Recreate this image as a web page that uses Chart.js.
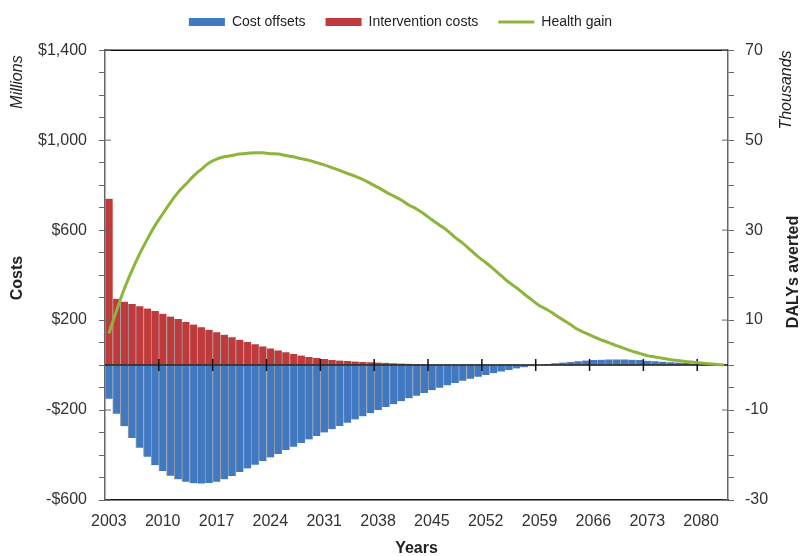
<!DOCTYPE html>
<html>
<head>
<meta charset="utf-8">
<script src="https://cdn.jsdelivr.net/npm/chart.js@4.4.0/dist/chart.umd.min.js"></script>
<style>
  html, body { margin: 0; padding: 0; background: #fff; }
  #wrap { width: 801px; height: 556px; }
</style>
</head>
<body>
<div id="wrap"><canvas id="chart"></canvas></div>
<script>
var years = [
    "2003", "2004", "2005", "2006", "2007", "2008", "2009", "2010", "2011", "2012",
    "2013", "2014", "2015", "2016", "2017", "2018", "2019", "2020", "2021", "2022",
    "2023", "2024", "2025", "2026", "2027", "2028", "2029", "2030", "2031", "2032",
    "2033", "2034", "2035", "2036", "2037", "2038", "2039", "2040", "2041", "2042",
    "2043", "2044", "2045", "2046", "2047", "2048", "2049", "2050", "2051", "2052",
    "2053", "2054", "2055", "2056", "2057", "2058", "2059", "2060", "2061", "2062",
    "2063", "2064", "2065", "2066", "2067", "2068", "2069", "2070", "2071", "2072",
    "2073", "2074", "2075", "2076", "2077", "2078", "2079", "2080", "2081", "2082",
    "2083",
];

// $ millions
var costOffsets = [
    -150, -216, -272, -324, -368, -408, -445, -471, -492, -508,
    -519, -526, -527, -524, -519, -508, -493, -476, -460, -443,
    -427, -411, -395, -378, -363, -347, -331, -315, -300, -285,
    -271, -256, -242, -228, -214, -200, -187, -174, -161, -148,
    -136, -124, -112, -101, -90, -80, -70, -61, -52, -44,
    -36, -29, -22, -15, -10, -5, 2, 5, 8, 11,
    14, 17, 20, 22, 24, 25, 25, 25, 24, 22,
    19, 17, 15, 13, 11, 9, 7, 6, 4, 3,
    1,
];

var interventionCosts = [
    740, 295, 282, 272, 262, 251, 240, 228, 216, 205,
    192, 180, 168, 157, 146, 135, 124, 113, 102, 92,
    83, 74, 65, 57, 49, 42, 36, 31, 27, 23,
    20, 18, 16, 14, 12, 11, 10, 8, 7, 6,
    5, 4, 3, 3, 2, 2, 1, 1, 1, 1,
    0, 0, 0, 0, 0, 0, 0, 0, 0, 0,
    0, 0, 0, 0, 0, 0, 0, 0, 0, 0,
    0, 0, 0, 0, 0, 0, 0, 0, 0, 0,
    0,
];

// DALYs averted, thousands
var healthGain = [
    7.0, 12.1, 16.9, 21.0, 24.7, 28.0, 31.0, 33.6, 36.1, 38.4,
    40.2, 42.0, 43.5, 44.9, 45.8, 46.3, 46.6, 46.9, 47.1, 47.2,
    47.2, 47.0, 46.9, 46.6, 46.3, 45.9, 45.5, 45.0, 44.5, 43.9,
    43.3, 42.6, 42.0, 41.3, 40.4, 39.5, 38.5, 37.6, 36.7, 35.6,
    34.7, 33.6, 32.3, 31.1, 29.9, 28.4, 27.1, 25.6, 24.1, 22.8,
    21.4, 19.9, 18.4, 17.2, 15.8, 14.5, 13.2, 12.3, 11.2, 10.1,
    9.0, 7.9, 7.1, 6.3, 5.6, 5.0, 4.3, 3.7, 3.1, 2.6,
    2.1, 1.8, 1.5, 1.2, 1.0, 0.8, 0.6, 0.45, 0.3, 0.15,
    0.0,
];

var yearTicks = ["2003", "2010", "2017", "2024", "2031", "2038", "2045", "2052", "2059", "2066", "2073", "2080"];
var costTicks = [-600, -200, 200, 600, 1000, 1400];
var dalyTicks = [-30, -10, 10, 30, 50, 70];

var FONT = "'Liberation Sans', Arial, sans-serif";

function money(v) {
    var s = "$" + Math.abs(v).toLocaleString("en-US");
    return v < 0 ? "-" + s : s;
}

// zero line with year ticks, box top edge and side titles
var decorations = {
    id: "decorations",
    afterDatasetDraw: function (chart, args) {
        if (args.index !== 0) return;
        var ctx = chart.ctx;
        var x = chart.scales.x;
        var y0 = chart.scales.y.getPixelForValue(0);
        var step = x.getPixelForValue(1) - x.getPixelForValue(0);
        ctx.save();
        ctx.strokeStyle = "#111";
        ctx.lineWidth = 1.5;
        ctx.beginPath();
        ctx.moveTo(chart.chartArea.left, y0);
        ctx.lineTo(chart.chartArea.right, y0);
        for (var i = 7; i < years.length; i += 7) {
            var bx = x.getPixelForValue(i) - step / 2;
            ctx.moveTo(bx, y0 - 6);
            ctx.lineTo(bx, y0 + 6);
        }
        ctx.stroke();
        ctx.restore();
    },
    afterDraw: function (chart) {
        var ctx = chart.ctx;
        var a = chart.chartArea;
        ctx.save();
        ctx.strokeStyle = "#111";
        ctx.lineWidth = 1.5;
        ctx.beginPath();
        ctx.moveTo(a.left, a.top);
        ctx.lineTo(a.right, a.top);
        ctx.stroke();

        // inward part of the labelled ticks
        ctx.strokeStyle = "#666";
        ctx.lineWidth = 1;
        ctx.beginPath();
        costTicks.forEach(function (v) {
            var py = chart.scales.y.getPixelForValue(v);
            ctx.moveTo(a.left, py);
            ctx.lineTo(a.left + 6, py);
        });
        dalyTicks.forEach(function (v) {
            var py = chart.scales.y1.getPixelForValue(v);
            ctx.moveTo(a.right, py);
            ctx.lineTo(a.right - 6, py);
        });
        ctx.stroke();

        ctx.fillStyle = "#222";
        ctx.textAlign = "center";
        ctx.textBaseline = "middle";
        var side = [
            ["Costs", "bold 16px " + FONT, 18, 278],
            ["Millions", "italic 16px " + FONT, 18, 82],
            ["DALYs averted", "bold 16px " + FONT, 794, 272],
            ["Thousands", "italic 16px " + FONT, 787, 90],
        ];
        side.forEach(function (t) {
            ctx.save();
            ctx.translate(t[2], t[3]);
            ctx.rotate(-Math.PI / 2);
            ctx.font = t[1];
            ctx.fillText(t[0], 0, 0);
            ctx.restore();
        });
        ctx.restore();
    },
};

var ctx = document.getElementById("chart").getContext("2d");

var config = {
    type: "bar",
    data: {
        labels: years,
        datasets: [
            {
                label: "Cost offsets",
                data: costOffsets,
                backgroundColor: "#4079c2",
                borderColor: "rgba(150, 150, 150, 0.9)",
                borderWidth: { left: 1, right: 0, top: 0, bottom: 0 },
                borderSkipped: false,
                barPercentage: 1,
                categoryPercentage: 1,
                pointStyle: "rect",
                order: 1,
                yAxisID: "y",
            },
            {
                label: "Intervention costs",
                data: interventionCosts,
                backgroundColor: "#c0393b",
                borderColor: "rgba(150, 150, 150, 0.9)",
                borderWidth: { left: 1, right: 0, top: 0, bottom: 0 },
                borderSkipped: false,
                barPercentage: 1,
                categoryPercentage: 1,
                pointStyle: "rect",
                order: 1,
                yAxisID: "y",
            },
            {
                type: "line",
                label: "Health gain",
                data: healthGain,
                borderColor: "#8db53c",
                backgroundColor: "#8db53c",
                borderWidth: 3,
                tension: 0.4,
                pointRadius: 0,
                pointStyle: "line",
                order: 0,
                yAxisID: "y1",
            },
        ],
    },
    options: {
        responsive: true,
        maintainAspectRatio: false,
        animation: false,
        layout: { padding: { top: -5, left: 0, right: 0, bottom: 0 } },
        plugins: {
            tooltip: { enabled: false },
            // empty title used as a gap between legend and plot
            title: {
                display: true,
                text: "",
                weight: 500,
                font: { size: 1 },
                padding: { top: 0, bottom: 10 },
            },
            legend: {
                position: "top",
                labels: {
                    usePointStyle: true,
                    pointStyleWidth: 36,
                    boxHeight: 8,
                    padding: 20,
                    color: "#222",
                    font: { family: FONT, size: 14 },
                    sort: function (a, b) {
                        return a.datasetIndex - b.datasetIndex;
                    },
                    generateLabels: function (chart) {
                        var items = Chart.defaults.plugins.legend.labels.generateLabels(chart);
                        items.forEach(function (it) {
                            if (it.datasetIndex < 2) {
                                it.lineWidth = 0;
                                it.strokeStyle = "rgba(0,0,0,0)";
                            }
                        });
                        return items;
                    },
                },
            },
        },
        scales: {
            x: {
                stacked: true,
                grid: { display: false },
                border: { display: true, color: "#111", width: 1.5 },
                ticks: {
                    autoSkip: false,
                    maxRotation: 0,
                    padding: 4,
                    color: "#333",
                    font: { family: FONT, size: 16 },
                    callback: function (v, i) {
                        return yearTicks.indexOf(years[i]) >= 0 ? years[i] : "";
                    },
                },
                title: {
                    display: true,
                    text: "Years",
                    color: "#222",
                    font: { family: FONT, size: 16, weight: "bold" },
                    padding: { top: 2, bottom: -2 },
                },
                afterFit: function (scale) {
                    scale.height = 56;
                },
            },
            y: {
                stacked: true,
                position: "left",
                min: -600,
                max: 1400,
                grid: { drawOnChartArea: false, color: "#666", tickLength: 6 },
                border: { color: "#666", width: 1.5 },
                ticks: {
                    stepSize: 100,
                    autoSkip: false,
                    padding: 12,
                    color: "#333",
                    font: { family: FONT, size: 16 },
                    callback: function (v) {
                        return costTicks.indexOf(v) >= 0 ? money(v) : "";
                    },
                },
                afterFit: function (scale) {
                    scale.width = 105;
                },
            },
            y1: {
                position: "right",
                min: -30,
                max: 70,
                grid: { drawOnChartArea: false, color: "#666", tickLength: 6 },
                border: { color: "#666", width: 1.5 },
                ticks: {
                    stepSize: 5,
                    autoSkip: false,
                    padding: 11,
                    color: "#333",
                    font: { family: FONT, size: 16 },
                    callback: function (v) {
                        return dalyTicks.indexOf(v) >= 0 ? String(v) : "";
                    },
                },
                afterFit: function (scale) {
                    scale.width = 73;
                },
            },
        },
    },
    plugins: [decorations],
};

var costChart = new Chart(ctx, config);
</script>
</body>
</html>
